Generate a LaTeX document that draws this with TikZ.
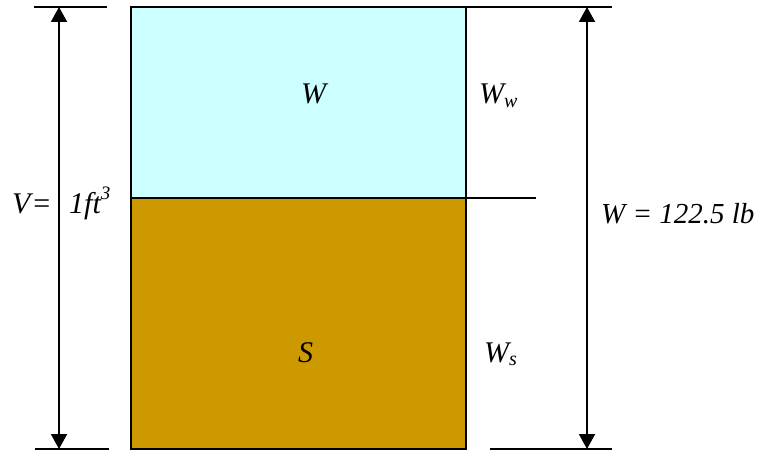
\documentclass[tikz,border=0pt]{standalone}
\usepackage{fontspec}
\setmainfont{Liberation Serif}
\usetikzlibrary{arrows.meta}
\definecolor{waterc}{HTML}{CCFFFF}
\definecolor{soilc}{HTML}{CC9900}
\newcommand{\sub}[1]{\raisebox{-0.25ex}{\fontsize{20}{20}\selectfont\itshape #1}}
\begin{document}
\begin{tikzpicture}[x=1pt,y=-1pt,
  rule/.style={line width=1.8pt,black},
  dimarrow/.style={line width=1.8pt,{Triangle[width=16pt,length=15pt]}-{Triangle[width=16pt,length=15pt]}},
  lbl/.style={anchor=base west,inner sep=0pt,font=\fontsize{30}{30}\selectfont\itshape},
  lblsmall/.style={anchor=base west,inner sep=0pt,font=\fontsize{29}{29}\selectfont\itshape}]
\useasboundingbox (0,0) rectangle (772,452);
% phases
\coordinate (bTL) at (131,7);
\coordinate (bML) at (131,198);
\coordinate (bMR) at (466,198);
\coordinate (bTR) at (466,7);
\coordinate (bBL) at (131,449);
\coordinate (bBR) at (466,449);
\fill[waterc] (bTL) rectangle (bMR);
\fill[soilc] (bML) rectangle (bBR);
\draw[rule] (bTL) rectangle (bBR);
\draw[rule] (bML) -- (bMR);
% tick lines
\coordinate (tl1) at (34,7);   \coordinate (tl2) at (107,7);
\coordinate (bl1) at (35,449); \coordinate (bl2) at (109,449);
\coordinate (tr2) at (612,7);
\coordinate (mr2) at (536,198);
\coordinate (br1) at (490,449); \coordinate (br2) at (612,449);
\draw[rule] (tl1) -- (tl2);
\draw[rule] (bl1) -- (bl2);
\draw[rule] (bTR) -- (tr2);
\draw[rule] (bMR) -- (mr2);
\draw[rule] (br1) -- (br2);
% dimension arrows
\coordinate (la1) at (59,7);  \coordinate (la2) at (59,449);
\coordinate (ra1) at (587,7); \coordinate (ra2) at (587,449);
\draw[dimarrow] (la1) -- (la2);
\draw[dimarrow] (ra1) -- (ra2);
% labels
\node[lbl] (wlab) at (301,103) {W};
\node[lbl] (slab) at (298,362) {S};
\node[lbl] (ww) at (479,104) {W\sub{w}};
\node[lbl] (ws) at (484,362) {W\sub{s}};
\node[lbl,font=\fontsize{30}{30}\selectfont] (veq) at (12,213) {\textit{V}=};
\node[lbl] (vol) at (69,213) {1ft\raisebox{14pt}{\fontsize{19}{19}\selectfont 3}};
\node[lblsmall] (wtot) at (601,223) {W = 122.5 lb};
\end{tikzpicture}
\end{document}
